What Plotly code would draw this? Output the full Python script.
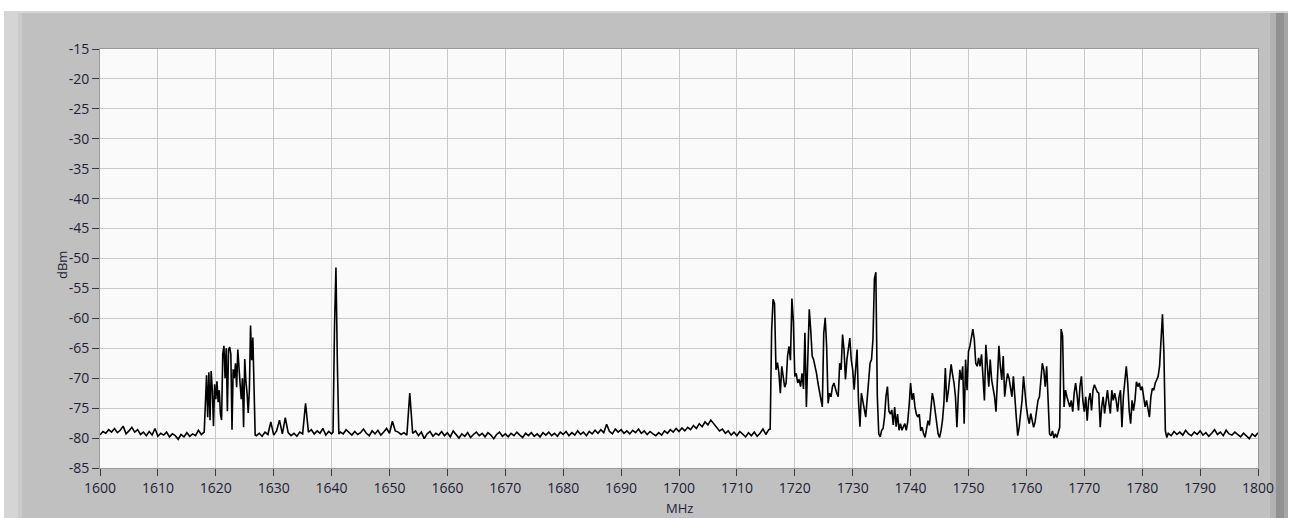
"""Spectre 1600-1800 MHz, style LabVIEW."""

import numpy as np
import plotly.graph_objects as go

# --- donnees (dBm), par segments de frequence ---
# chaque segment : (frequence de depart en MHz, pas en MHz, valeurs)

seg_a_start, seg_a_step = 1600.0, 0.5
seg_a = [-79.5, -78.9, -79.2, -78.6, -79.0, -78.4, -79.1, -78.7, -78.0, -79.3,
         -78.8, -78.2, -79.0, -78.6, -79.4, -79.0, -79.6, -78.9, -79.5, -78.4,
         -79.7, -79.2, -79.5, -79.0, -79.8, -79.3, -79.6, -80.2, -79.4, -79.8,
         -79.1, -79.7, -79.3, -79.6, -78.7, -79.4]

seg_b_start, seg_b_step = 1618.0, 0.2
seg_b = [-79.0, -74.5, -69.5, -76.5, -69.0, -77.0, -68.8, -72.0, -78.0, -71.0,
         -73.5, -70.5, -74.0, -72.0, -76.0, -77.0, -66.0, -64.6, -70.0, -65.0,
         -75.5, -65.2, -64.8, -66.0, -78.6, -68.5, -70.0, -67.5, -71.5, -65.2,
         -69.0, -71.0, -73.5, -70.0, -78.2, -66.8, -70.5, -72.5, -75.8, -72.0,
         -61.2, -67.0, -63.2, -71.0, -79.5]

seg_c1_start, seg_c1_step = 1627.0, 0.5
seg_c1 = [-79.6, -79.2, -79.7, -79.0, -79.4, -77.3, -79.5, -78.8, -77.0, -79.3,
          -76.6, -79.1, -79.6, -79.2, -79.7, -79.0, -79.3, -74.2, -79.0, -78.6,
          -79.3, -78.8, -79.2, -78.4, -79.5, -78.9, -79.3]

seg_c2_start, seg_c2_step = 1640.25, 0.25
seg_c2 = [-79.0, -61.5, -51.5, -67.8, -79.3, -79.0]

seg_c3_start, seg_c3_step = 1642.0, 0.5
seg_c3 = [-79.3, -78.6, -79.0, -79.5, -78.9, -79.4, -79.1, -78.5, -79.2, -79.6,
          -78.8, -79.3, -78.7, -79.5, -79.0, -78.4, -79.2, -77.2, -78.8, -79.0,
          -79.4, -79.1, -79.5, -72.5, -79.2, -78.8, -79.6, -79.0, -80.1, -79.3,
          -78.9, -79.7, -79.2, -79.5, -78.9, -79.6, -79.1, -79.8, -78.8, -79.4,
          -80.0, -79.3, -79.7, -79.1, -79.9, -79.4, -79.0, -79.6, -79.2, -79.8,
          -79.1, -79.5, -80.1, -79.4, -79.0, -79.7, -79.3, -79.8, -79.2, -79.6,
          -79.0, -79.5, -79.9, -79.2, -79.6, -79.1, -79.7, -79.3, -79.8, -79.1,
          -79.5, -79.0, -79.6, -79.2, -79.7, -79.0, -79.4, -78.9, -79.6, -79.1,
          -79.5, -78.8, -79.4, -79.0, -79.6, -78.9, -79.3, -78.7, -79.2, -78.6,
          -79.1, -77.7, -78.9, -79.3, -78.5, -79.0, -78.6, -79.2, -78.8, -79.3,
          -78.7, -79.1, -78.5, -79.2, -78.8, -79.4, -78.9, -79.3, -79.6, -79.1,
          -79.5, -78.8, -79.2, -78.6, -79.0, -78.4, -78.9, -78.3, -78.8, -78.2,
          -78.6, -77.9, -78.4, -77.6, -78.1, -77.3, -77.8, -77.0, -77.6, -78.2,
          -78.8, -78.5, -79.2, -78.8, -79.5, -79.0, -79.6, -78.9, -79.4, -79.8,
          -79.1, -79.6, -79.0, -79.7, -79.2, -78.5, -79.4, -78.6]

seg_d_start, seg_d_step = 1715.75, 0.25
seg_d = [-78.5, -62.0, -56.8, -57.5, -68.6, -67.4, -69.1, -72.5, -68.0, -69.5,
         -71.5, -70.8, -66.3, -64.7, -67.0, -56.7, -60.5, -69.7, -69.2, -70.8,
         -70.2, -71.4, -69.2, -71.8, -62.4, -74.8, -64.1, -58.5, -61.9, -66.3,
         -66.9, -68.0, -69.2, -70.8, -71.9, -73.5, -74.8, -62.5, -59.9, -64.7,
         -74.2, -72.5, -73.1, -71.4, -70.8, -71.9, -72.5, -73.1, -67.5, -68.6,
         -62.7, -65.2, -70.2, -66.9, -65.2, -63.3, -66.9, -68.6, -71.9, -69.0,
         -65.2, -73.7, -78.1, -72.5, -73.7, -74.8, -76.5, -73.5, -69.7, -67.5,
         -66.9, -63.5, -53.4, -52.3, -73.0, -79.3, -79.8, -78.7, -78.4, -76.5,
         -73.0, -71.4, -75.5, -76.0, -75.3, -77.8, -74.8, -78.1, -76.0, -78.7,
         -77.6, -78.7, -78.1, -77.6, -78.7, -77.3, -74.5, -70.8, -73.6, -72.5,
         -74.8, -76.0, -76.5, -76.0, -78.8, -78.2, -79.3, -79.9, -78.5, -77.1,
         -77.9, -75.1, -72.5, -73.7, -75.9, -78.2, -79.3, -79.9, -78.8, -77.1,
         -74.2, -68.3, -74.0, -72.3, -70.3, -67.7, -69.4, -70.8, -73.1, -78.2,
         -72.5, -68.6, -70.3, -68.0, -77.6, -66.9, -72.0, -65.5, -64.6, -63.2,
         -61.8, -63.5, -67.5, -68.0, -66.6, -68.0, -66.0, -69.7, -73.7, -64.4,
         -68.6, -71.4, -66.9, -70.3, -71.7, -73.1, -75.6, -70.3, -64.6, -68.0,
         -70.3, -66.3, -73.1, -70.8, -69.2, -70.0, -71.4, -73.1, -69.7, -74.2,
         -76.5, -79.6, -78.2, -75.9, -73.7, -69.7, -73.1, -74.8, -76.5, -77.6,
         -75.9, -77.1, -78.2, -77.3, -75.4, -73.7, -73.1, -70.3, -67.5, -68.6,
         -71.4, -68.0, -73.1, -79.3, -79.6, -78.8, -80.0, -79.3, -79.9, -79.0,
         -78.2, -61.8, -62.9, -74.8, -72.0, -73.1, -74.0, -74.8, -73.7, -75.6,
         -72.5, -70.8, -72.8, -75.4, -71.4, -69.7, -73.7, -75.6, -73.1, -77.1,
         -73.7, -72.5, -75.4, -72.0, -71.1, -71.7, -72.3, -72.5, -78.2, -74.8,
         -73.1, -75.9, -73.7, -72.0, -74.2, -75.9, -72.0, -73.7, -72.5, -73.7,
         -75.6, -73.1, -72.0, -78.2, -73.1, -70.6, -68.0, -70.8, -75.4, -77.6,
         -73.7, -75.4, -73.7, -70.6, -71.4, -70.8, -72.0, -71.4, -73.1, -74.8,
         -73.7, -75.4, -76.5, -73.1, -71.7, -72.0, -70.8, -70.3, -69.7, -68.0,
         -62.9, -59.3, -65.8, -78.8, -79.9]

seg_e_start, seg_e_step = 1784.5, 0.5
seg_e = [-79.2, -79.6, -78.9, -79.4, -79.0, -79.5, -78.7, -79.3, -79.6, -79.0,
         -79.4, -78.8, -79.5, -79.1, -79.7, -79.2, -78.6, -79.4, -79.0, -79.6,
         -78.7, -79.3, -79.5, -79.0, -79.4, -79.8, -79.2, -79.6, -80.1, -79.3,
         -79.7, -79.1]

x_ticks = list(range(1600, 1801, 10))
y_ticks = list(range(-85, -14, 5))
y_labels = ["-" + str(abs(v)) for v in y_ticks]   # tiret simple, pas le signe moins

# --- mise en page (pixels) ---
W, H = 1290, 518
ML, MR, MT, MB = 100, 32, 49, 50
PW, PH = W - ML - MR, H - MT - MB


def px(x, y):
    """Pixel de la page -> coordonnees paper."""
    return (x - ML) / PW, (H - MB - y) / PH


def rect(x0, y0, x1, y1, color):
    """Rectangle en pixels de la page -> shape en coordonnees paper."""
    (a0, b1), (a1, b0) = px(x0, y0), px(x1, y1)
    return dict(type="rect", xref="paper", yref="paper", layer="below",
                x0=a0, x1=a1, y0=b0, y1=b1,
                line=dict(width=0), fillcolor=color)


def main():
    segments = [
        (seg_a_start, seg_a_step, seg_a),
        (seg_b_start, seg_b_step, seg_b),
        (seg_c1_start, seg_c1_step, seg_c1),
        (seg_c2_start, seg_c2_step, seg_c2),
        (seg_c3_start, seg_c3_step, seg_c3),
        (seg_d_start, seg_d_step, seg_d),
        (seg_e_start, seg_e_step, seg_e),
    ]
    freq, dbm = [], []
    for start, step, vals in segments:
        freq += list(start + step * np.arange(len(vals)))
        dbm += vals

    fig = go.Figure()
    fig.add_trace(go.Scatter(x=freq, y=dbm, mode="lines",
                             line=dict(color="black", width=1.6),
                             hoverinfo="x+y"))

    font = dict(family="Open Sans, Noto Sans, sans-serif", size=14, color="#1e1e36")
    axis = dict(showgrid=True, gridcolor="#c9c9c9", gridwidth=1,
                zeroline=False, showline=True, linecolor="#9a9a9a",
                linewidth=1, mirror=True, ticks="outside", ticklen=7,
                tickcolor="#3a3a3a", tickwidth=1, tickfont=font)

    shapes = [
        rect(0, 0, W, 11, "white"),
        rect(0, 11, W, 13, "#d6d6d6"),
        rect(0, 11, 4, H, "white"),
        rect(4, 13, 18, H, "#d5d5d5"),
        rect(18, 13, 22, H, "#cbcbcb"),
        rect(1270, 13, 1276, H, "#b2b2b2"),
        rect(1276, 13, 1284, H, "#929292"),
        rect(1284, 13, 1288, H, "#a6a6a6"),
        rect(1288, 11, W, H, "white"),
    ]

    title_font = dict(font, size=13)
    xt, yt = px(679, 508)
    xd, yd = px(62, 265)
    annotations = [
        dict(text="MHz", xref="paper", yref="paper", x=xt, y=yt,
             showarrow=False, font=title_font, xanchor="center", yanchor="middle"),
        dict(text="dBm", xref="paper", yref="paper", x=xd, y=yd, textangle=-90,
             showarrow=False, font=title_font, xanchor="center", yanchor="middle"),
    ]

    fig.update_layout(
        width=W, height=H,
        margin=dict(l=ML, r=MR, t=MT, b=MB, autoexpand=False),
        paper_bgcolor="#c0c0c0", plot_bgcolor="#fafafa",
        showlegend=False, shapes=shapes, annotations=annotations,
        xaxis=dict(axis, range=[1600, 1800], tickvals=x_ticks),
        yaxis=dict(axis, range=[-85, -15], tickvals=y_ticks, ticktext=y_labels),
    )
    # la page html a une marge de 8 px par defaut : on la supprime
    fig.write_html("out.html", config={"displayModeBar": False},
                   post_script="document.body.style.margin='0';")


if __name__ == "__main__":
    main()
